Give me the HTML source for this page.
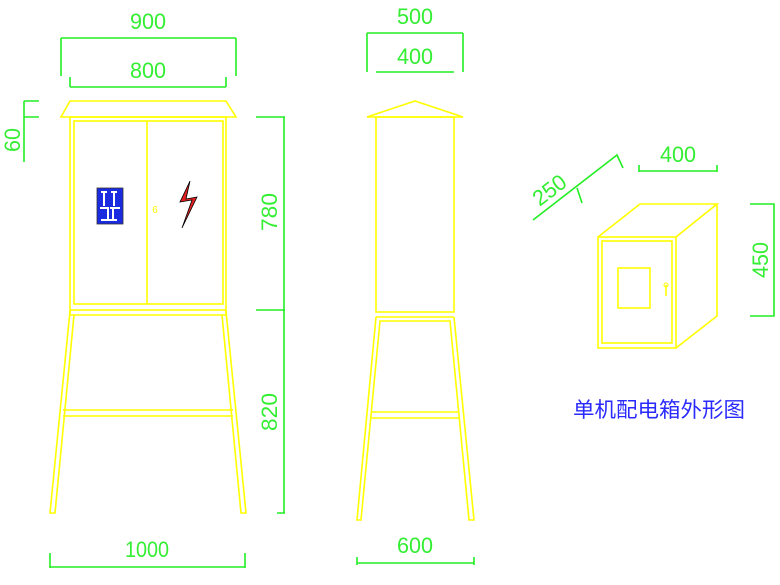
<!DOCTYPE html>
<html><head><meta charset="utf-8"><style>
html,body{margin:0;padding:0;background:#fff;}
svg{display:block}
.g{stroke:#22ee22;stroke-width:1.6;fill:none}
.y{stroke:#ffff00;stroke-width:1.6;fill:none}
.t{fill:#33ee33;font-family:"Liberation Sans",sans-serif;font-size:22px}
</style></head><body>
<svg width="780" height="585" viewBox="0 0 780 585" xmlns="http://www.w3.org/2000/svg">
<!-- FRONT VIEW dims -->
<path class="g" d="M61 38H236M61 38V76M236 38V76"/>
<text class="t" x="148" y="29" text-anchor="middle" textLength="36" lengthAdjust="spacingAndGlyphs">900</text>
<path class="g" d="M70 87H226M70 77V87M226 77V87"/>
<text class="t" x="148" y="78" text-anchor="middle" textLength="36" lengthAdjust="spacingAndGlyphs">800</text>
<path class="g" d="M24 101V162M24 101H39M24 117H39"/>
<text class="t" transform="translate(20,140) rotate(-90)" text-anchor="middle" textLength="24" lengthAdjust="spacingAndGlyphs">60</text>
<path class="g" d="M284 117V513M256 117H285M256 310H285M277 513H285"/>
<text class="t" transform="translate(277,212) rotate(-90)" text-anchor="middle" textLength="38" lengthAdjust="spacingAndGlyphs">780</text>
<text class="t" transform="translate(277,412) rotate(-90)" text-anchor="middle" textLength="38" lengthAdjust="spacingAndGlyphs">820</text>
<path class="g" d="M50 567H245M50 553V568M245 553V568"/>
<text class="t" x="147" y="557" text-anchor="middle" textLength="44" lengthAdjust="spacingAndGlyphs">1000</text>
<!-- front cabinet -->
<path class="y" d="M70 101H226L236 117H61Z"/>
<rect class="y" x="70" y="117" width="156" height="193"/>
<rect class="y" x="74" y="121" width="149" height="183" stroke-width="1.2"/>
<path class="y" d="M147 121V304" stroke-width="1.2"/>
<path class="y" d="M70 310V315H226V310M74 315" stroke-width="1.2"/>
<path class="y" d="M70 311L50 513H55L74 315M226 311L246 513H241L222 315" stroke-width="1.3"/>
<path class="y" d="M63 410H233M63 416H233" stroke-width="1.3"/>
<rect x="97" y="188" width="26" height="36" fill="#1a2be0" stroke="#333" stroke-width="0.8"/>
<path d="M101 192h6M104 192v14M111 192h6M114 192v14M100 208h8v12M110 208h10M113 208v12M101 220h16" stroke="#fff" stroke-width="2" fill="none"/>
<text x="155" y="213" fill="#ffff00" font-size="10" font-family="Liberation Sans,sans-serif" text-anchor="middle">6</text>
<path d="M190 181L180 202L192 200L182 228L197 197L186 199Z" fill="#e02020" stroke="#000" stroke-width="0.8"/>
<!-- SIDE VIEW -->
<path class="g" d="M367 33H463M367 33V72M463 33V72"/>
<text class="t" x="415" y="24" text-anchor="middle" textLength="36" lengthAdjust="spacingAndGlyphs">500</text>
<path class="g" d="M376 72H454"/>
<text class="t" x="415" y="64" text-anchor="middle" textLength="36" lengthAdjust="spacingAndGlyphs">400</text>
<path class="y" d="M367 117L415 101L463 117Z"/>
<rect class="y" x="376" y="117" width="78" height="195"/>
<path class="y" d="M376 317H454" stroke-width="1.3"/>
<path class="y" d="M376 317L357 520H361L380 321H450L469 520H474L454 317" stroke-width="1.3"/>
<path class="y" d="M371 412H459M371 418H459" stroke-width="1.3"/>
<path class="g" d="M357 563H474M357 557V565M474 557V565"/>
<text class="t" x="415" y="553" text-anchor="middle" textLength="36" lengthAdjust="spacingAndGlyphs">600</text>
<!-- ISO BOX -->
<path class="y" d="M598 237L640 204H717L676 237M717 204V316L676 348"/>
<rect class="y" x="598" y="237" width="78" height="111"/>
<rect class="y" x="602" y="241" width="70" height="102" stroke-width="1.2"/>
<rect class="y" x="618" y="268" width="32" height="40" stroke-width="1.2"/>
<path class="y" d="M666 285V296" stroke-width="2"/>
<circle cx="666" cy="285" r="2" fill="none" stroke="#ffff00"/>
<path class="g" d="M750 204H774V316H750"/>
<text class="t" transform="translate(768,260) rotate(-90)" text-anchor="middle" textLength="36" lengthAdjust="spacingAndGlyphs">450</text>
<path class="g" d="M639 171H717M639 165V172M717 165V172"/>
<text class="t" x="678" y="162" text-anchor="middle" textLength="36" lengthAdjust="spacingAndGlyphs">400</text>
<path class="g" d="M533 220L617 155L623 168M577 188L582 203"/>
<text class="t" transform="translate(554,196) rotate(-37)" text-anchor="middle" textLength="36" lengthAdjust="spacingAndGlyphs">250</text>
<text x="659" y="417" fill="#2a2aff" font-family="'Liberation Sans','Noto Sans CJK SC',sans-serif" font-size="21" text-anchor="middle" textLength="172" lengthAdjust="spacingAndGlyphs">单机配电箱外形图</text>
</svg>
</body></html>
